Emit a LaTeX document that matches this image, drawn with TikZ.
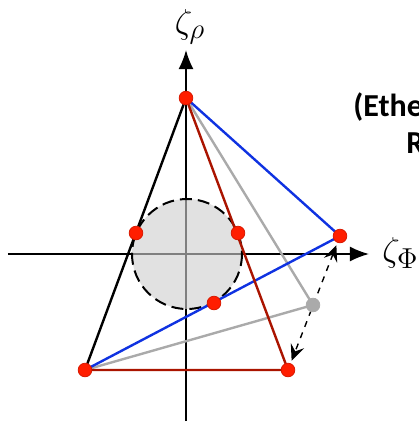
\documentclass[tikz,border=0pt]{standalone}
\usepackage{fontspec}
\usepackage{amsmath}
\usetikzlibrary{arrows.meta}
\newfontfamily\labelfont{Carlito}
\definecolor{dotred}{RGB}{255,30,0}
\definecolor{edgeblue}{RGB}{15,50,225}
\definecolor{edgered}{RGB}{170,20,0}
\definecolor{edgegray}{RGB}{170,170,170}
\definecolor{discgray}{RGB}{206,206,206}

\begin{document}
\begin{tikzpicture}[
    x=0.5pt, y=-0.5pt,
    axis/.style={-{Latex[length=9.5pt,width=7.5pt]}, line width=0.9pt},
    edge/.style={line width=1.2pt},
    dot/.style={circle, fill=dotred, draw=dotred!85!black, line width=0.4pt, inner sep=0pt, minimum size=6.8pt},
    graydot/.style={dot, fill=edgegray, draw=edgegray},
    swap/.style={{Stealth[length=8pt,width=7pt,inset=3pt]}-{Stealth[length=8pt,width=7pt,inset=3pt]}, dashed, line width=0.7pt, shorten <=5pt, shorten >=5pt},
    axlabel/.style={font=\fontsize{19}{22}\selectfont, inner sep=0pt}
]
\useasboundingbox (0,0) rectangle (419,425);

% axes
\coordinate (xstart) at (8,254);
\coordinate (xend) at (369,254);
\coordinate (ystart) at (186,421);
\coordinate (yend) at (186,50);
\draw[axis] (xstart) -- (xend);
\draw[axis] (ystart) -- (yend);
\node[axlabel, anchor=west] (zphi) at (382,253) {$\zeta_\Phi$};
\node[axlabel] (zrho) at (190,27) {$\zeta_\rho$};

% disc
\coordinate (O) at (187,254);
\fill[discgray, fill opacity=0.62] (O) circle (55);
\draw[dashed, dash pattern=on 6pt off 3pt, line width=1pt] (O) circle (55);

% vertices
\coordinate (T) at (186,98);
\coordinate (BL) at (85,370);
\coordinate (BR) at (288,370);
\coordinate (R) at (340,236);
\coordinate (G) at (313,305);

\draw[edge, edgegray] (BL) -- (G) -- (T);
\draw[edge, edgeblue] (BL) -- (R) -- (T);
\draw[edge, edgered] (T) -- (BR) -- (BL);
\draw[edge] (T) -- (BL);

\draw[swap] (R) -- (BR);

\node[graydot] (g) at (G) {};
\foreach \p/\n in {T/t, BL/bl, BR/br, R/r} {
    \node[dot] (\n) at (\p) {};
}
\node[dot] (c1) at (136,233) {};
\node[dot] (c2) at (238,233) {};
\node[dot] (c3) at (214,303) {};

\node[anchor=base west, font=\labelfont\bfseries\fontsize{16}{19}\selectfont, inner sep=0pt] (title1) at (353,116) {(Ethe};
\node[anchor=base west, font=\labelfont\bfseries\fontsize{16}{19}\selectfont, inner sep=0pt] (title2) at (406,153) {R};
\end{tikzpicture}
\end{document}
